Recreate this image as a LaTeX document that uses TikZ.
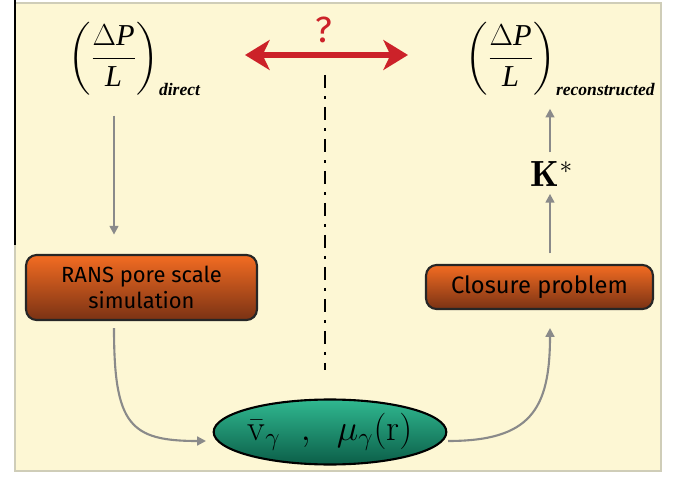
\documentclass[tikz,border=0pt]{standalone}
\usepackage{fontspec}
\usepackage{amsmath}
\usepackage{mathtools}
\usepackage{tikz}
\usetikzlibrary{arrows.meta, shapes.geometric, positioning}
\newfontfamily\boxfont{Fira Sans}
\newfontfamily\timesfont{Liberation Serif}
\definecolor{cream}{HTML}{FDF7D4}
\definecolor{rimgrey}{HTML}{CFCDB8}
\definecolor{arrowgrey}{HTML}{8A8A8A}
\definecolor{qred}{HTML}{CC2229}
\definecolor{orangetop}{HTML}{F36C22}
\definecolor{orangebot}{HTML}{7A3214}
\definecolor{tealtop}{HTML}{30B890}
\definecolor{tealbot}{HTML}{0B5E48}
\tikzset{
    procbox/.style={rectangle, rounded corners=6pt, draw=black!85, line width=1.2pt,
        top color=orangetop, bottom color=orangebot, align=center},
    flow/.style={-{Triangle[length=5pt,width=5pt]}, draw=arrowgrey, line width=1.2pt},
    ratio/.style={inner sep=0pt, font=\LARGE},
}
\newcommand{\subtag}[1]{\mathrlap{\text{\timesfont\fontsize{10}{12}\selectfont\bfseries\itshape #1}}}
\newcommand{\tms}[1]{\text{\timesfont #1}}

\begin{document}
\begin{tikzpicture}[x=0.02cm, y=-0.02cm]
    \useasboundingbox (0,0) rectangle (673,483);
    \fill[cream] (15,3) rectangle (661,471);
    \draw[rimgrey, line width=0.8pt] (15,3) rectangle (661,471);
    \draw[black, line width=0.6pt] (15,0) -- (15,245);

    % pressure drops
    \node[ratio] (dpdirect) at (114,59)
        {$\left(\dfrac{\tms{$\Delta$\itshape P}}{\tms{\itshape L}}\right)_{\subtag{direct}}$};
    \node[ratio] (dprecon) at (511,59)
        {$\left(\dfrac{\tms{$\Delta$\itshape P}}{\tms{\itshape L}}\right)_{\subtag{reconstructed}}$};
    \node[text=qred, font=\boxfont\huge] (quest) at (324,30) {?};
    \coordinate (cmpL) at (245,55);
    \coordinate (cmpR) at (408,55);
    \draw[qred, line width=3pt,
        {Stealth[length=14pt,width=17pt,inset=4pt]}-{Stealth[length=14pt,width=17pt,inset=4pt]}]
        (cmpL) -- (cmpR);
    \coordinate (axtop) at (325,75);
    \coordinate (axbot) at (325,370);
    \draw[line width=1.7pt, dash pattern=on 7.5pt off 4.5pt on 1.7pt off 4.5pt] (axtop) -- (axbot);

    % boxes
    \node[procbox, minimum width=4.62cm, minimum height=1.3cm,
        font=\boxfont\fontsize{12.5}{15}\selectfont] (rans) at (141.5,287.5)
        {RANS pore scale\\simulation};
    \node[procbox, minimum width=4.54cm, minimum height=0.88cm,
        font=\boxfont\fontsize{13.5}{16}\selectfont] (closure) at (539.5,287)
        {Closure problem};
    \node[ellipse, draw=black, line width=1.2pt, top color=tealtop, bottom color=tealbot,
        minimum width=4.64cm, minimum height=1.3cm, inner sep=0pt, font=\huge] (vmu) at (330,432)
        {$\bar{\mathrm{v}}_{\gamma}\;\;,\;\;\mu_{\gamma}(\mathrm{r})$};
    \node[inner sep=0pt, font=\huge] (kstar) at (552,174) {$\mathbf{K}^{*}$};

    % flow
    \draw[flow, shorten <=11pt, shorten >=11pt] (dpdirect.south) -- (dpdirect.south |- rans.north);
    \coordinate (inL) at (206,441);
    \draw[flow, shorten <=4pt] (dpdirect.south |- rans.south) .. controls (114,425) and (130,441) .. (inL);
    \coordinate (outR) at (448,441);
    \coordinate (inR) at (550,328);
    \draw[flow] (outR) .. controls (530,441) and (550,410) .. (inR);
    \draw[flow, shorten <=6pt, shorten >=4pt] (inR |- closure.north) -- (inR |- kstar.south);
    \draw[flow, shorten <=5pt, shorten >=7pt] (inR |- kstar.north) -- (inR |- dprecon.south);
\end{tikzpicture}
\end{document}
